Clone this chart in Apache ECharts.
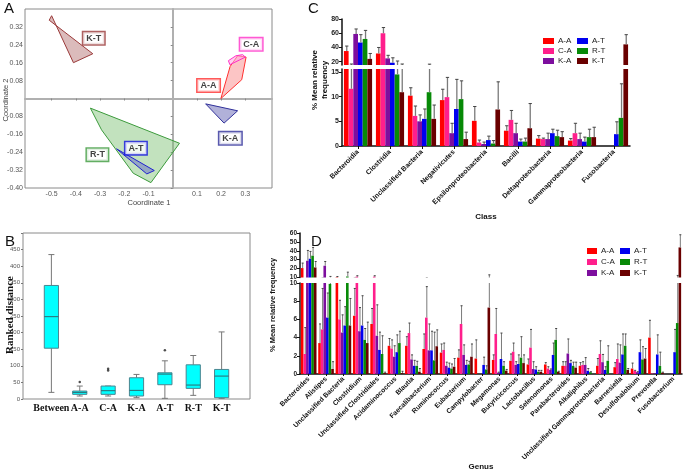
<!DOCTYPE html>
<html><head><meta charset="utf-8">
<script src="https://cdn.jsdelivr.net/npm/echarts@6/dist/echarts.min.js"></script>
<style>html,body{margin:0;padding:0;background:#fff}#c{width:685px;height:474px}</style>
</head><body><div id="c"></div>
<script>
// ---------- Panel A: PCoA polygons ----------
const polyKT = [[-0.50,0.37],[-0.51,0.35],[-0.33,0.20],[-0.41,0.16]];
const polyRT = [[-0.34,-0.043],[-0.294,-0.14],[-0.163,-0.334],[-0.09,-0.376],[0.028,-0.20]];
const polyAT = [[-0.232,-0.225],[-0.076,-0.322],[-0.107,-0.337]];
const polyAA = [[0.199,0.0],[0.237,0.143],[0.268,0.191],[0.303,0.185],[0.285,0.084]];
const polyCA = [[0.23,0.169],[0.236,0.151],[0.30,0.185],[0.289,0.196],[0.261,0.191]];
const polyKA = [[0.136,-0.024],[0.212,-0.110],[0.268,-0.055]];
const groupLabelPos = [[-0.326,0.269],[0.324,0.242],[0.148,0.058],[0.238,-0.178],[-0.311,-0.251],[-0.152,-0.222]];
const groupLabelNames = ['K-T','C-A','A-A','K-A','R-T','A-T'];
const axisXTicks = [-0.5,-0.4,-0.3,-0.2,-0.1,0.1,0.2,0.3];
const axisYTicks = [-0.40,-0.32,-0.24,-0.16,-0.08,0.08,0.16,0.24,0.32];

// ---------- Panel B: ranked distance boxplots ----------
const boxNames = ['Between','A-A','C-A','K-A','A-T','R-T','K-T'];
const boxMin = [20, 9, 9, 4, 2, 11, 2];
const boxQ1  = [153, 14, 14, 9, 43, 32, 4];
const boxMed = [248, 20, 25, 26, 75, 42, 69];
const boxQ3  = [342, 24, 39, 64, 79, 103, 89];
const boxMax = [435, 39, 39, 74, 115, 131, 202];
const boxOutliers = [[2,51],[3,86],[3,91],[5,147]];

// ---------- Panel C: class ----------
const groups = ['A-A','C-A','K-A','A-T','R-T','K-T'];
const classCats = ['Bacteroidia','Clostridia','Unclassified Bacteria','Negativicutes','Epsilonproteobacteria','Bacilli','Deltaproteobacteria','Gammaproteobacteria','Fusobacteria'];
const cAA = [35, 31.6, 10.2, 9.3, 5.1, 3.1, 1.5, 1.1, 0];
const cCA = [11.6, 60, 6.1, 9.9, 0.7, 5.3, 1.4, 2.6, 0];
const cKA = [59, 24.7, 5.0, 2.6, 0.4, 2.6, 1.4, 1.4, 0];
const cAT = [47, 18.6, 5.5, 7.5, 1.2, 0.9, 2.6, 0.9, 2.4];
const cRT = [52, 14.5, 10.9, 9.5, 0.5, 0.9, 2.0, 1.8, 5.7];
const cKT = [24, 10.9, 5.5, 1.4, 7.4, 3.6, 1.8, 1.8, 44.4];
const cAAe = [7, 8.4, 1.6, 2.2, 2.9, 1.0, 0.6, 0.4, 0];
const cCAe = [5.2, 8, 2.0, 4.0, 0.5, 1.9, 0.2, 2.0, 0];
const cKAe = [7, 4.3, 1.3, 2.0, 0.4, 2.0, 1.2, 1.2, 0];
const cATe = [11, 6.9, 2.0, 6.0, 0.8, 0.5, 0.8, 0.9, 2.5];
const cRTe = [12, 6.5, 5.7, 3.7, 0.6, 0.7, 1.2, 1.6, 6.9];
const cKTe = [7.6, 5.9, 2.8, 1.4, 5.6, 5.0, 1.1, 2.0, 13.6];

// ---------- Panel D: genus ----------
const genusCats = ['Bacteroides','Alistipes','Unclassified Bacteria','Clostridium','Unclassified Clostridiales','Acidaminococcus','Blautia','Faecalibacterium','Ruminococcus','Eubacterium','Campylobacter','Megamonas','Butyricicoccus','Lactobacillus','Selenomonas','Parabacteroides','Alkaliphilus','Unclassified Gammaproteobacteria','Barnesiella','Desulfohalobium','Prevotella','Fusobacterium'];
const gAA = [20.6, 3.4, 10.4, 6.4, 5.5, 3.1, 3.1, 2.75, 2.35, 1.8, 1.7, 1.55, 1.45, 1.05, 1.05, 0.9, 0.9, 0.9, 0.75, 0.6, 4.0, 0];
const gCA = [2.2, 4.9, 6.0, 11, 11, 2.8, 4.5, 6.2, 2.65, 5.5, 0, 4.4, 2.45, 2.9, 0.6, 0.9, 1.0, 2.2, 1.65, 0.35, 0.05, 0];
const gKA = [28.8, 23.2, 4.55, 4.7, 4.2, 1.9, 1.6, 2.6, 0.9, 2.1, 0, 0.15, 1.0, 0.55, 0.45, 2.25, 1.0, 1.3, 1.25, 0.2, 0.05, 0.05];
const gAT = [31.1, 6.2, 5.33, 5.33, 2.65, 2.4, 0.9, 2.6, 0.7, 1.0, 1.0, 1.65, 1.1, 0.5, 2.1, 1.2, 0.35, 0.45, 2.15, 2.4, 2.15, 2.4];
const gRT = [34.5, 9.9, 11.1, 3.75, 2.2, 3.4, 0.9, 1.5, 0.6, 1.05, 0.5, 0.9, 1.8, 0.25, 3.75, 0.9, 0.2, 1.45, 3.1, 1.6, 0.9, 5.6];
const gKT = [21.3, 0.55, 5.33, 3.4, 0.1, 0.1, 0.25, 3.05, 0.8, 1.9, 7.3, 0.37, 1.2, 0.25, 0.25, 0.7, 0, 0, 0.45, 1.7, 0.15, 43.8];
const gAAe = [5.6, 2.1, 0.7, 3.0, 1.7, 0.8, 1.0, 1.65, 0.95, 0.85, 2.05, 0.55, 0.75, 0.6, 0.2, 0.45, 0.35, 0.8, 0.5, 0.6, 1.9, 0];
const gCAe = [2.9, 4.5, 2.1, 1.0, 1.0, 0.95, 1.1, 3.4, 0.75, 2.0, 0, 2.8, 0.95, 2.0, 0.2, 0.45, 0.35, 1.45, 1.65, 0.05, 0, 0];
const gKAe = [11.6, 4.8, 1.95, 2.6, 3.4, 1.2, 0.5, 2.9, 0.4, 1.1, 0, 0.05, 0.35, 0.8, 0.1, 1.6, 0.8, 0.85, 1.95, 0.05, 0, 0];
const gATe = [8.2, 2.7, 2.07, 3.27, 1.95, 1.9, 0.6, 2.1, 0.5, 0.5, 0.85, 2.85, 1.0, 0.3, 1.3, 0.3, 0.25, 0.35, 2.25, 1.35, 2.15, 2.5];
const gRTe = [9.3, 1.3, 4.9, 1.25, 2.0, 1.3, 0.5, 3.1, 0.5, 0.35, 0.4, 0.45, 2.3, 0.15, 1.25, 0.4, 0.05, 1.65, 1.3, 1.4, 1.5, 6.7];
const gKTe = [6.7, 0.8, 2.97, 2.3, 0.1, 0.2, 0.35, 1.8, 0.9, 1.4, 5.7, 0.13, 0.9, 0.15, 0.05, 0.6, 0, 0, 0.15, 1.1, 0.05, 14.2];

// ---------- styling ----------
const barColors = ['#FF0000','#FF1F8C','#7D0E9E','#0000F0','#078A07','#6A0000'];
const FONT = "'Liberation Sans', Arial, sans-serif";
const SERIF = "'Liberation Serif', 'Times New Roman', serif";

const classMeans = [cAA,cCA,cKA,cAT,cRT,cKT];
const classErrs = [cAAe,cCAe,cKAe,cATe,cRTe,cKTe];
const genusMeans = [gAA,gCA,gKA,gAT,gRT,gKT];
const genusErrs = [gAAe,gCAe,gKAe,gATe,gRTe,gKTe];

const chart = echarts.init(document.getElementById('c'), null, {renderer:'canvas'});

const CGAP = 0.12, DGAP = 0.10;

function errRender(gap, lw){
  return function(params, api){
    const cat = api.value(0), s = api.value(1), m = api.value(2), t = api.value(3);
    const band = api.size([1,0])[0];
    const w = band*(1-gap)/6;
    const b = api.coord([cat, m]);
    const tp = api.coord([cat, t]);
    const x = b[0] - 3*w + (s+0.5)*w + 0.5;
    const cap = Math.max(w*0.7, 2);
    return {type:'group', children:[
      {type:'line', shape:{x1:x,y1:b[1],x2:x,y2:tp[1]}, style:{stroke:'#7a7a7a', lineWidth:lw}},
      {type:'line', shape:{x1:x-cap/2,y1:tp[1],x2:x+cap/2,y2:tp[1]}, style:{stroke:'#444', lineWidth:1}}
    ]};
  };
}
function errData(means, errs){
  const out = [];
  means.forEach((arr, s) => arr.forEach((v, i) => { if (errs[s][i] > 0) out.push([i, s, v, v + errs[s][i]]); }));
  return out;
}

const series = [];
// Panel A polygons
const polys = [
  [polyKT,'rgba(175,105,105,0.45)','#9a3a3a'],
  [polyRT,'rgba(120,190,110,0.45)','#3c9a3c'],
  [polyAT,'rgba(80,80,200,0.40)','#2020d0'],
  [polyAA,'rgba(250,150,150,0.55)','#ff3030'],
  [polyCA,'rgba(255,170,230,0.55)','#ff30c8'],
  [polyKA,'rgba(100,100,180,0.50)','#30309a']
];
polys.forEach(([pts, fill, stroke]) => {
  series.push({type:'custom', xAxisIndex:0, yAxisIndex:0, data: pts, silent:true,
    renderItem: (params, api) => {
      if (params.dataIndex !== 0) return;
      return {type:'polygon', shape:{points: pts.map(p => api.coord(p))}, style:{fill: fill, stroke: stroke, lineWidth:1}};
    }});
});
const labelBorders = ['#9a3a3a','#ff30c8','#ff3030','#30309a','#3c9a3c','#1515e0'];
series.push({type:'scatter', xAxisIndex:0, yAxisIndex:0, symbolSize:0, silent:true,
  data: groupLabelPos.map((p,i) => ({value:p, name:groupLabelNames[i],
    label:{show:true, position:'inside', formatter: groupLabelNames[i], backgroundColor:'#fff', borderColor: labelBorders[i], borderWidth:1.5, padding:[2,3,1,3], fontWeight:'bold', fontSize:9, color:'#111', fontFamily: FONT}}))
});

// Panel B boxplots
series.push({type:'custom', xAxisIndex:1, yAxisIndex:1, silent:true,
  data: boxNames.map((n,i) => [i+1, boxMin[i], boxQ1[i], boxMed[i], boxQ3[i], boxMax[i]]),
  renderItem: (params, api) => {
    const x = api.value(0);
    const pMin = api.coord([x, api.value(1)]), pQ1 = api.coord([x, api.value(2)]), pMed = api.coord([x, api.value(3)]),
          pQ3 = api.coord([x, api.value(4)]), pMax = api.coord([x, api.value(5)]);
    const hw = api.size([0.5,0])[0]/2, cw = 3;
    const cx = pMed[0];
    return {type:'group', children:[
      {type:'line', shape:{x1:cx,y1:pQ3[1],x2:cx,y2:pMax[1]}, style:{stroke:'#777', lineWidth:1}},
      {type:'line', shape:{x1:cx,y1:pQ1[1],x2:cx,y2:pMin[1]}, style:{stroke:'#777', lineWidth:1}},
      {type:'line', shape:{x1:cx-cw,y1:pMax[1],x2:cx+cw,y2:pMax[1]}, style:{stroke:'#777', lineWidth:1}},
      {type:'line', shape:{x1:cx-cw,y1:pMin[1],x2:cx+cw,y2:pMin[1]}, style:{stroke:'#777', lineWidth:1}},
      {type:'rect', shape:{x:cx-hw, y:pQ3[1], width:hw*2, height:pQ1[1]-pQ3[1]}, style:{fill:'#00FFFF', stroke:'#4a8590', lineWidth:1}},
      {type:'line', shape:{x1:cx-hw,y1:pMed[1],x2:cx+hw,y2:pMed[1]}, style:{stroke:'#2f6870', lineWidth:1}}
    ]};
  }});
series.push({type:'scatter', xAxisIndex:1, yAxisIndex:1, symbolSize:2.5, itemStyle:{color:'#222'}, data: boxOutliers, silent:true});

// Panels C & D bars
function addBars(means, errs, xi, minVal, gap){
  means.forEach((arr, s) => {
    series.push({type:'bar', name: groups[s], xAxisIndex:xi, yAxisIndex:xi, clip:true,
      data: arr.map(v => (minVal !== null && v <= minVal) ? '-' : v),
      itemStyle:{color: barColors[s]}, barGap:'0%', barCategoryGap: (gap*100)+'%', silent:true});
  });
  series.push({type:'custom', xAxisIndex:xi, yAxisIndex:xi, clip:true, silent:true, z:5,
    data: errData(means, errs), renderItem: errRender(gap, xi < 4 ? 1.3 : 1)});
}
addBars(classMeans, classErrs, 2, 15.4, CGAP);
addBars(classMeans, classErrs, 3, null, CGAP);
addBars(genusMeans, genusErrs, 4, 10, DGAP);
addBars(genusMeans, genusErrs, 5, null, DGAP);

const blackAxisLine = {show:true, onZero:false, lineStyle:{color:'#111', width:1.5}};
const blackTick = {show:true, length:3, lineStyle:{color:'#111', width:1}};
const valLabel = (fs) => ({fontSize:fs, fontWeight:'bold', color:'#222', margin:3, fontFamily: FONT});

const option = {
  animation:false,
  textStyle:{fontFamily: FONT},
  grid:[
    {left:25, top:9, width:247, height:179, show:true, borderColor:'#8a8a8a', borderWidth:1, containLabel:false},
    {left:23, top:233, width:227, height:166, show:true, borderColor:'#8a8a8a', borderWidth:1},
    {left:342, top:19, width:288, height:46},
    {left:342, top:69, width:288, height:77},
    {left:300, top:233, width:382, height:44.5},
    {left:300, top:283, width:382, height:91}
  ],
  xAxis:[
    {type:'value', gridIndex:0, min:-0.61, max:0.41, splitLine:{show:false},
      axisLine:{show:true, onZero:true, lineStyle:{color:'#b0b0b0', width:2}},
      axisTick:{show:true, length:2, customValues: axisXTicks, lineStyle:{color:'#888'}},
      axisLabel:{customValues: axisXTicks, fontSize:7, color:'#555', margin:3, formatter: v => v.toFixed(1)}},
    {type:'value', gridIndex:1, min:0, max:8, splitLine:{show:false}, axisLine:{show:false},
      axisTick:{show:false},
      axisLabel:{customValues:[1,2,3,4,5,6,7], formatter: v => boxNames[Math.round(v)-1] || '', fontFamily: SERIF, fontWeight:'bold', fontSize:10, color:'#111', margin:4}},
    {type:'category', gridIndex:2, data: classCats, show:false},
    {type:'category', gridIndex:3, data: classCats, axisLine: blackAxisLine,
      axisTick:{show:true, alignWithLabel:true, length:3, lineStyle:{color:'#111'}},
      axisLabel:{rotate:45, interval:0, fontSize:7, fontWeight:'bold', color:'#111', margin:5}},
    {type:'category', gridIndex:4, data: genusCats, show:false},
    {type:'category', gridIndex:5, data: genusCats, axisLine: blackAxisLine,
      axisTick:{show:true, alignWithLabel:true, length:2, lineStyle:{color:'#111'}},
      axisLabel:{rotate:45, interval:0, fontSize:6.8, fontWeight:'bold', color:'#111', margin:4}}
  ],
  yAxis:[
    {type:'value', gridIndex:0, min:-0.4, max:0.4, splitLine:{show:false},
      axisLine:{show:true, onZero:true, lineStyle:{color:'#b0b0b0', width:2}},
      axisTick:{show:true, length:2, customValues: axisYTicks, lineStyle:{color:'#888'}},
      axisLabel:{customValues: axisYTicks, fontSize:7, color:'#555', margin:2, formatter: v => v.toFixed(2)}},
    {type:'value', gridIndex:1, min:0, max:500, interval:50, splitLine:{show:false}, axisLine:{show:false},
      axisTick:{show:true, length:2, lineStyle:{color:'#777'}},
      axisLabel:{fontSize:6, color:'#555', margin:3, formatter: v => v >= 500 ? '' : v}},
    {type:'value', gridIndex:2, min:15.4, max:80, splitLine:{show:false}, axisLine: blackAxisLine,
      axisTick:Object.assign({customValues:[20,40,60,80]}, blackTick),
      axisLabel:Object.assign({customValues:[20,40,60,80]}, valLabel(7))},
    {type:'value', gridIndex:3, min:0, max:15.6, splitLine:{show:false}, axisLine: blackAxisLine,
      axisTick:Object.assign({customValues:[0,5,10,15]}, blackTick),
      axisLabel:Object.assign({customValues:[0,5,10,15]}, valLabel(7))},
    {type:'value', gridIndex:4, min:10, max:60, interval:10, splitLine:{show:false}, axisLine: blackAxisLine,
      axisTick: blackTick, axisLabel: valLabel(6.5)},
    {type:'value', gridIndex:5, min:0, max:10, interval:2, splitLine:{show:false}, axisLine: blackAxisLine,
      axisTick: blackTick, axisLabel: valLabel(6.5)}
  ],
  legend:[
    {data:['A-A','C-A','K-A'], left:543, top:37, orient:'vertical', icon:'rect', itemWidth:11, itemHeight:6, itemGap:2, padding:0, selectedMode:false, textStyle:{fontSize:8, color:'#222', padding:[0,0,0,-1]}},
    {data:['A-T','R-T','K-T'], left:577, top:37, orient:'vertical', icon:'rect', itemWidth:11, itemHeight:6, itemGap:2, padding:0, selectedMode:false, textStyle:{fontSize:8, color:'#222', padding:[0,0,0,-1]}},
    {data:['A-A','C-A','K-A'], left:587, top:247, orient:'vertical', icon:'rect', itemWidth:10, itemHeight:6, itemGap:3, padding:0, selectedMode:false, textStyle:{fontSize:8, color:'#222', padding:[0,0,0,-1]}},
    {data:['A-T','R-T','K-T'], left:620, top:247, orient:'vertical', icon:'rect', itemWidth:10, itemHeight:6, itemGap:3, padding:0, selectedMode:false, textStyle:{fontSize:8, color:'#222', padding:[0,0,0,-1]}}
  ],
  graphic:[
    {type:'text', left:4, top:1, style:{text:'A', font:'15px '+FONT, fill:'#111'}},
    {type:'text', left:5, top:234, style:{text:'B', font:'15px '+FONT, fill:'#111'}},
    {type:'text', left:308, top:1, style:{text:'C', font:'15px '+FONT, fill:'#111'}},
    {type:'text', left:311, top:234, style:{text:'D', font:'15px '+FONT, fill:'#111'}},
    {type:'text', x:149, y:203, style:{text:'Coordinate 1', font:'7.5px '+FONT, fill:'#444', textAlign:'center', textVerticalAlign:'middle', align:'center', verticalAlign:'middle'}},
    {type:'text', x:6, y:100, rotation:Math.PI/2, style:{text:'Coordinate 2', font:'7.5px '+FONT, fill:'#444', textAlign:'center', textVerticalAlign:'middle', align:'center', verticalAlign:'middle'}},
    {type:'text', x:10, y:315, rotation:Math.PI/2, style:{text:'Ranked distance', font:'bold 11px '+SERIF, fill:'#111', textAlign:'center', textVerticalAlign:'middle', align:'center', verticalAlign:'middle'}},
    {type:'text', x:320, y:80, rotation:Math.PI/2, style:{text:'% Mean relative\nfrequency', font:'bold 8px '+FONT, fill:'#111', textAlign:'center', textVerticalAlign:'middle', align:'center', verticalAlign:'middle', lineHeight:10}},
    {type:'text', x:273, y:305, rotation:Math.PI/2, style:{text:'% Mean relative frequency', font:'bold 7.5px '+FONT, fill:'#111', textAlign:'center', textVerticalAlign:'middle', align:'center', verticalAlign:'middle'}},
    {type:'text', x:486, y:217, style:{text:'Class', font:'bold 8px '+FONT, fill:'#111', textAlign:'center', textVerticalAlign:'middle', align:'center', verticalAlign:'middle'}},
    {type:'text', x:481, y:467, style:{text:'Genus', font:'bold 8px '+FONT, fill:'#111', textAlign:'center', textVerticalAlign:'middle', align:'center', verticalAlign:'middle'}}
  ],
  series: series
};
chart.setOption(option);
</script></body></html>
